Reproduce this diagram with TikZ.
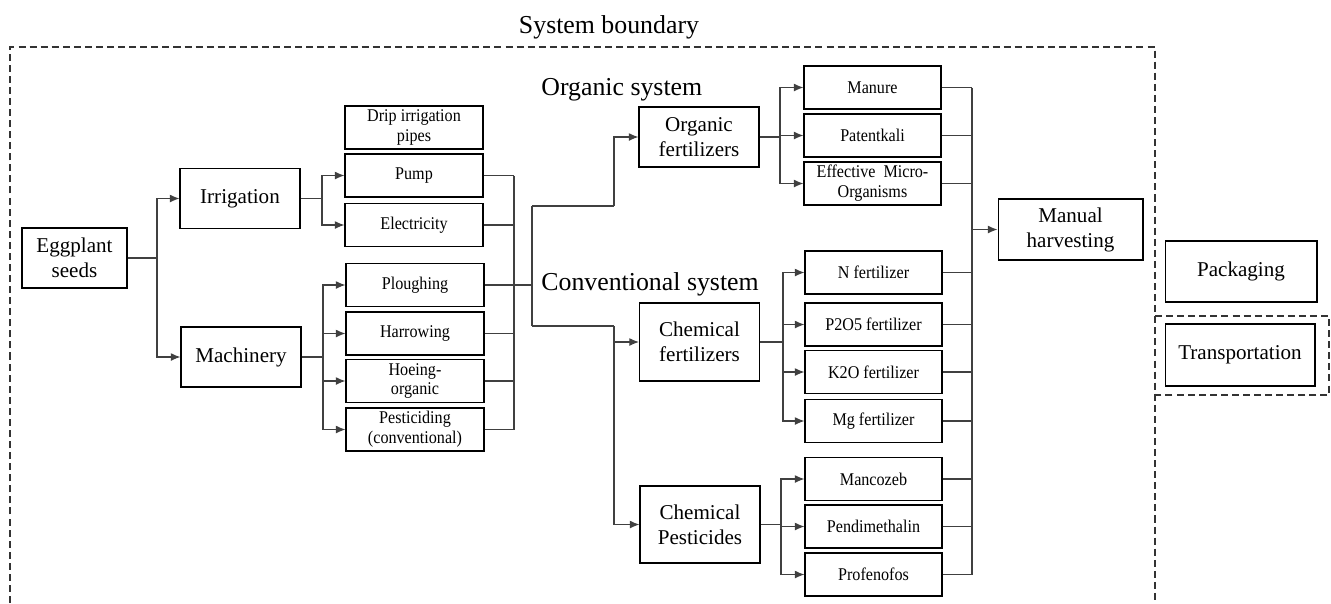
\documentclass[tikz,border=0pt]{standalone}
\usepackage{fontspec}
\setmainfont{Liberation Serif}
\newfontfamily\narrowserif{Liberation Serif}[FakeStretch=0.9]
\usetikzlibrary{arrows.meta}

\tikzset{
    procbox/.style={draw, rectangle, align=center, inner sep=0pt, line width=0.6pt,
        font=\fontsize{12}{14.2}\selectfont, minimum width=2.4cm, minimum height=1.2cm},
    subbox/.style={procbox, font=\narrowserif\fontsize{10.2}{11.3}\selectfont,
        minimum width=2.76cm, minimum height=0.86cm},
    headtext/.style={font=\fontsize{14.7}{17}\selectfont, inner sep=0pt},
    link/.style={draw=black!75, line width=0.6pt},
    flow/.style={link, -{Latex[length=5.5pt,width=4.5pt]}},
    boundary/.style={draw=black!80, line width=0.6pt, dash pattern=on 4pt off 2.3pt},
}

\begin{document}
\begin{tikzpicture}[x=0.02cm, y=-0.02cm]

    \useasboundingbox (0, 0) rectangle (1331, 603);

    % System boundary
    \node[headtext, anchor=base] (sysb) at (609, 33) {System boundary};
    \draw[boundary] (10, 603) -- (10, 47) -- (1155, 47) -- (1155, 603);
    \draw[boundary] (1155, 316) -- (1329, 316) -- (1329, 395) -- (1155, 395);

    \node[headtext, anchor=base west] (orgsys) at (541, 95) {Organic system};
    \node[headtext, anchor=base west] (convsys) at (541, 290) {Conventional system};

    % Main inputs
    \node[procbox, minimum width=2.1cm] (seeds) at (74.5, 258) {Eggplant\\seeds};
    \node[procbox] (irr) at (240, 198.5) {Irrigation};
    \node[procbox] (mach) at (241, 357) {Machinery};

    % Irrigation and machinery items
    \node[subbox] (drip) at (414, 127.5) {Drip irrigation\\pipes};
    \node[subbox] (pump) at (414, 175.5) {Pump};
    \node[subbox] (elec) at (414, 225) {Electricity};
    \node[subbox] (plough) at (415, 285) {Ploughing};
    \node[subbox] (harrow) at (415, 333.5) {Harrowing};
    \node[subbox] (hoe) at (415, 381) {Hoeing-\\organic};
    \node[subbox] (pestic) at (415, 429.5) {Pesticiding\\(conventional)};

    % Fertilizers and pesticides
    \node[procbox] (orgfert) at (699, 137) {Organic\\fertilizers};
    \node[procbox, minimum height=1.56cm] (chemfert) at (699.5, 342) {Chemical\\fertilizers};
    \node[procbox, minimum height=1.54cm] (chempest) at (700, 524.5) {Chemical\\Pesticides};

    \node[subbox, minimum width=2.74cm] (manure) at (872.5, 87.5) {Manure};
    \node[subbox, minimum width=2.74cm] (patent) at (872.5, 135.5) {Patentkali};
    \node[subbox, minimum width=2.74cm] (em) at (872.5, 183.5) {Effective\ \ Micro-\\Organisms};
    \node[subbox, minimum width=2.74cm] (nfert) at (873.5, 272.5) {N fertilizer};
    \node[subbox, minimum width=2.74cm] (pfert) at (873.5, 324.5) {P2O5 fertilizer};
    \node[subbox, minimum width=2.74cm] (kfert) at (873.5, 372) {K2O fertilizer};
    \node[subbox, minimum width=2.74cm] (mgfert) at (873.5, 421) {Mg fertilizer};
    \node[subbox, minimum width=2.74cm] (mancoz) at (873.5, 479) {Mancozeb};
    \node[subbox, minimum width=2.74cm] (pendi) at (873.5, 526.5) {Pendimethalin};
    \node[subbox, minimum width=2.74cm] (profen) at (873.5, 574.5) {Profenofos};

    % Harvest and after
    \node[procbox, minimum width=2.9cm, minimum height=1.22cm] (harvest) at (1070.5, 229.5) {Manual\\harvesting};
    \node[procbox, minimum width=3.04cm, minimum height=1.22cm] (pack) at (1241, 271.5) {Packaging};
    \node[procbox, minimum width=3.0cm, minimum height=1.24cm] (transp) at (1240, 355) {Transportation};

    % Seeds to irrigation and machinery
    \coordinate (jseed) at (157, 258);
    \draw[link] (seeds.east) -- (jseed);
    \draw[flow] (jseed) |- (irr.west);
    \draw[flow] (jseed) |- (mach.west);

    % Split irrigation
    \coordinate (jirr) at (322, 198.5);
    \draw[link] (irr.east) -- (jirr);
    \foreach \n in {pump, elec}{
        \draw[flow] (jirr) |- (\n.west);
    }

    % Split machinery
    \coordinate (jmach) at (323, 357);
    \draw[link] (mach.east) -- (jmach);
    \foreach \n in {plough, harrow, hoe, pestic}{
        \draw[flow] (jmach) |- (\n.west);
    }

    % Join the items
    \coordinate (cl) at (514, 0);
    \foreach \n in {pump, elec, plough, harrow, hoe, pestic}{
        \draw[link] (\n.east) -- (\n.east -| cl);
    }
    \draw[link] (pump.east -| cl) -- (pestic.east -| cl);

    % Split into organic and conventional
    \coordinate (sp) at (532, 285);
    \coordinate (spt) at (532, 206);
    \coordinate (spb) at (532, 326);
    \coordinate (jorg) at (614, 206);
    \coordinate (jconv) at (614, 326);
    \draw[link] (plough.east -| cl) -- (sp);
    \draw[link] (spt) -- (spb);
    \draw[link] (spt) -- (jorg);
    \draw[flow] (jorg) |- (orgfert.west);
    \draw[link] (spb) -- (jconv);
    \draw[flow] (jconv) |- (chempest.west);
    \draw[flow] (chemfert.west -| jconv) -- (chemfert.west);

    % Split the fertilizers and pesticides
    \coordinate (jof) at (780, 137);
    \coordinate (jcf) at (783, 342);
    \coordinate (jcp) at (781, 524.5);
    \draw[link] (orgfert.east) -- (jof);
    \draw[link] (chemfert.east) -- (jcf);
    \draw[link] (chempest.east) -- (jcp);
    \foreach \n in {manure, patent, em}{
        \draw[flow] (jof) |- (\n.west);
    }
    \foreach \n in {nfert, pfert, kfert, mgfert}{
        \draw[flow] (jcf) |- (\n.west);
    }
    \foreach \n in {mancoz, pendi, profen}{
        \draw[flow] (jcp) |- (\n.west);
    }

    % Join everything to harvesting
    \coordinate (ch) at (972, 0);
    \foreach \n in {manure, patent, em, nfert, pfert, kfert, mgfert, mancoz, pendi, profen}{
        \draw[link] (\n.east) -- (\n.east -| ch);
    }
    \draw[link] (manure.east -| ch) -- (profen.east -| ch);
    \draw[flow] (harvest.west -| ch) -- (harvest.west);

\end{tikzpicture}
\end{document}
